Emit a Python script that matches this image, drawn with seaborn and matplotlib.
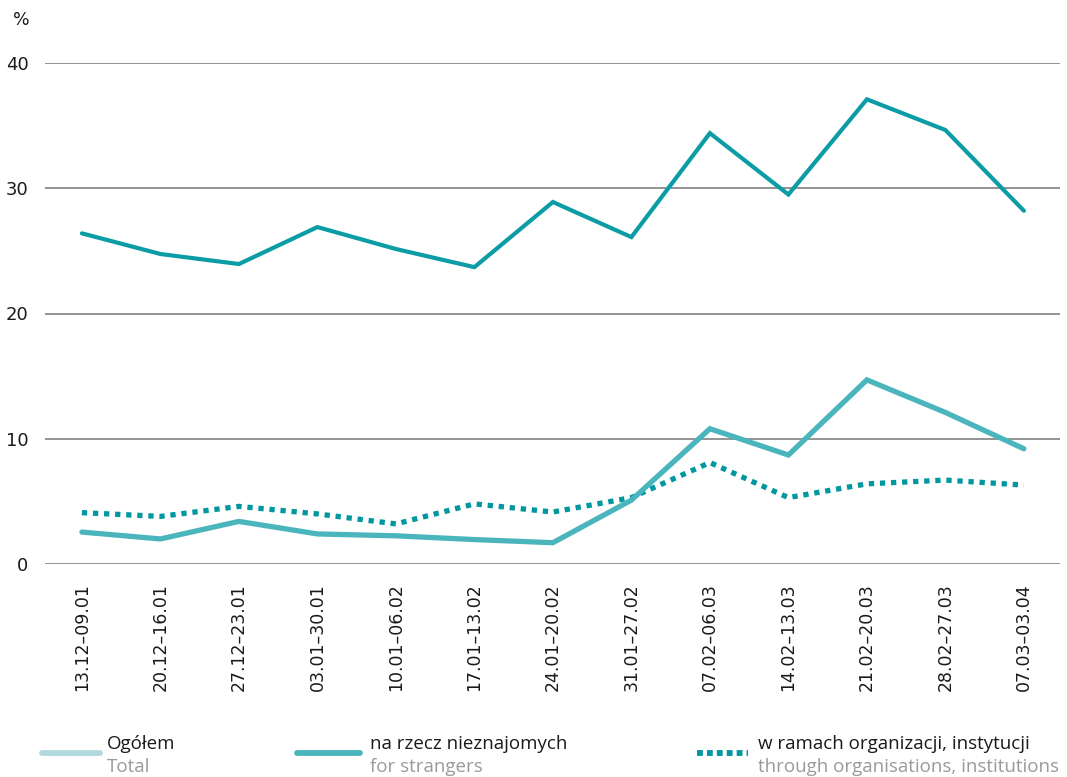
import matplotlib
matplotlib.use("Agg")
import matplotlib.pyplot as plt
from matplotlib.lines import Line2D
import seaborn as sns
import pandas as pd

periods = ["13.12–09.01", "20.12–16.01", "27.12–23.01", "03.01–30.01", "10.01–06.02",
           "17.01–13.02", "24.01–20.02", "31.01–27.02", "07.02–06.03", "14.02–13.03",
           "21.02–20.03", "28.02–27.03", "07.03–03.04"]
strangers = [26.4, 24.75, 23.95, 26.9, 25.15, 23.7, 28.9, 26.1, 34.4, 29.5, 37.1, 34.65, 28.2]
total = [2.55, 2.0, 3.4, 2.4, 2.25, 1.95, 1.7, 5.1, 10.8, 8.7, 14.7, 12.1, 9.2]
organisations = [4.1, 3.8, 4.6, 4.0, 3.2, 4.8, 4.15, 5.3, 8.1, 5.3, 6.4, 6.7, 6.3]
yticks = [0, 10, 20, 30, 40]

legend_main = ["Ogółem", "na rzecz nieznajomych", "w ramach organizacji, instytucji"]
legend_sub = ["Total", "for strangers", "through organisations, institutions"]

sns.set_theme(style="white")
plt.rcParams['font.family'] = ['Open Sans', 'DejaVu Sans']

fig = plt.figure(figsize=(10.67, 7.77), dpi=100)
ax = fig.add_axes([45/1067, 1 - 564/777, (1060-45)/1067, (564-63)/777])

df = pd.DataFrame({"period": periods, "strangers": strangers, "total": total, "org": organisations})

c_top = "#0b9ca6"
c_low = "#4ab5bd"
c_dot = "#0097a1"
c_leg1 = "#b2dade"

sns.lineplot(data=df, x="period", y="org", ax=ax, color=c_dot, lw=3.8,
             linestyle=(0, (1, 1.1)), sort=False, solid_capstyle="butt", dash_capstyle="butt")
sns.lineplot(data=df, x="period", y="total", ax=ax, color=c_low, lw=3.8, sort=False,
             solid_capstyle="round", solid_joinstyle="miter")
sns.lineplot(data=df, x="period", y="strangers", ax=ax, color=c_top, lw=3.0, sort=False,
             solid_capstyle="round", solid_joinstyle="miter")

ax.set_xlim(-0.47, 12.46)
ax.set_ylim(0, 40)
ax.set_yticks(yticks)
ax.set_yticklabels([str(v) for v in yticks], fontsize=13, family=['DejaVu Sans'])
ax.grid(axis="y", color="#8a8a8a", lw=1.3)
ax.grid(axis="x", visible=False)
ax.set_axisbelow(True)
for s in ax.spines.values():
    s.set_visible(False)
ax.tick_params(axis="y", length=0, pad=12, labelcolor="#1a1a1a")
ax.tick_params(axis="x", length=0, pad=14, labelcolor="#1a1a1a")
ax.set_xticks(range(len(periods)))
ax.set_xticklabels(periods, rotation=90, fontsize=12.5, family=['DejaVu Sans'])
ax.set_xlabel("")
ax.set_ylabel("")
for ln in ax.lines:
    ln.set_clip_on(False)

fig.text(13/1067, 1 - 20/777, "%", fontsize=12.5, family=['DejaVu Sans'], va="center", ha="left", color="#1a1a1a")

# legend
leg_specs = [
    (42, 100, 107, c_leg1, "-"),
    (297, 360, 370, c_low, "-"),
    (697, 748, 758, c_dot, (0, (1, 0.7))),
]
for (x0, x1, xt, col, ls), m, s in zip(leg_specs, legend_main, legend_sub):
    fig.add_artist(Line2D([x0/1067, x1/1067], [1 - 753/777, 1 - 753/777], color=col, lw=4.2,
                          linestyle=ls, solid_capstyle="round", dash_capstyle="butt",
                          transform=fig.transFigure))
    fig.text(xt/1067, 1 - 744/777, m, fontsize=13.5, color="#1a1a1a", va="center", ha="left")
    fig.text(xt/1067, 1 - 767/777, s, fontsize=13.5, color="#9a9a9a", va="center", ha="left")

fig.savefig("out.png", dpi=100)
